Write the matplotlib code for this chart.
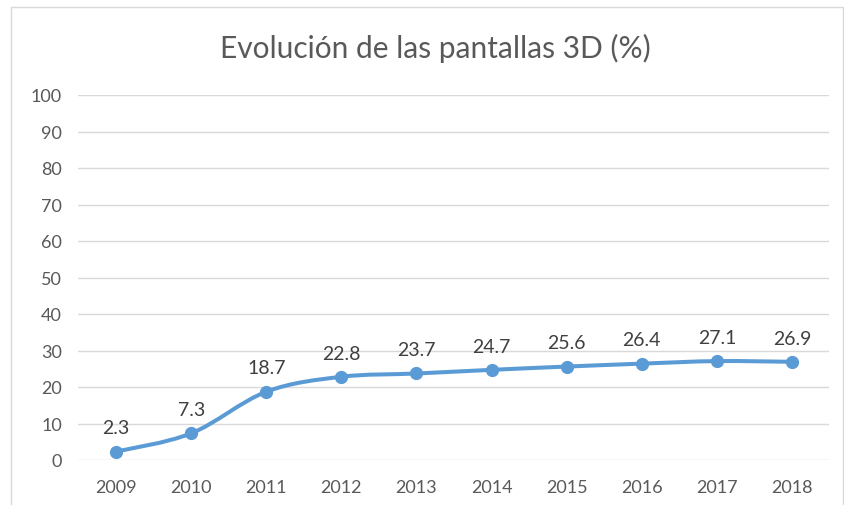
"""Evolution of 3D screens, Excel-style smoothed line chart."""

import matplotlib

matplotlib.use("Agg")

import matplotlib.pyplot as plt
from matplotlib.patches import PathPatch, Rectangle
from matplotlib.path import Path

years = ["2009", "2010", "2011", "2012", "2013", "2014", "2015", "2016", "2017", "2018"]
share = [2.3, 7.3, 18.7, 22.8, 23.7, 24.7, 25.6, 26.4, 27.1, 26.9]
y_ticks = list(range(0, 101, 10))

LINE = "#5B9BD5"
TEXT = "#595959"
GRID = "#D9D9D9"

plt.rcParams["font.family"] = ["Lato", "DejaVu Sans"]


def smooth_path(xs, ys):
    """Catmull-Rom style bezier through the points (like Excel's smoothed line)."""
    verts = [(xs[0], ys[0])]
    codes = [Path.MOVETO]
    n = len(xs)
    for i in range(n - 1):
        x0, y0 = (xs[i - 1], ys[i - 1]) if i > 0 else (xs[i], ys[i])
        x1, y1 = xs[i], ys[i]
        x2, y2 = xs[i + 1], ys[i + 1]
        x3, y3 = (xs[i + 2], ys[i + 2]) if i + 2 < n else (x2, y2)
        c1 = (x1 + (x2 - x0) / 6, y1 + (y2 - y0) / 6)
        c2 = (x2 - (x3 - x1) / 6, y2 - (y3 - y1) / 6)
        verts += [c1, c2, (x2, y2)]
        codes += [Path.CURVE4] * 3
    return Path(verts, codes)


fig = plt.figure(figsize=(8.45, 5.06), dpi=100)
fig.patches.append(Rectangle((11 / 845, -0.01), 832 / 845, 1 - 8 / 506 + 0.01,
                             transform=fig.transFigure, fill=False,
                             edgecolor=GRID, linewidth=1))

ax = fig.add_axes([78.5 / 845, 1 - 461 / 506, 751 / 845, 365 / 506])
xs = list(range(len(years)))

ax.add_patch(PathPatch(smooth_path(xs, share), fill=False, edgecolor=LINE,
                       linewidth=2.9, capstyle="round", joinstyle="round", zorder=3))
ax.plot(xs, share, linestyle="none", marker="o", markersize=8.5, color=LINE, zorder=4)

for x, v in zip(xs, share):
    ax.annotate(f"{v}", (x, v), xytext=(0, 11), textcoords="offset points",
                ha="center", va="bottom", fontsize=14, color="#404040")

ax.set_xlim(-0.5, len(years) - 0.5)
ax.set_ylim(0, 100)
ax.set_xticks(xs, years)
ax.set_yticks(y_ticks)
ax.tick_params(length=0, labelsize=13, colors=TEXT)
ax.tick_params(axis="y", pad=12)
ax.tick_params(axis="x", pad=14)
ax.yaxis.grid(True, color=GRID, linewidth=1)
ax.set_axisbelow(True)
for side in ax.spines.values():
    side.set_visible(False)

fig.text(435 / 845, 1 - 48 / 506, "Evolución de las pantallas 3D (%)",
         ha="center", va="center", fontsize=21.5, color=TEXT)

fig.savefig("out.png", dpi=100)
plt.close(fig)
